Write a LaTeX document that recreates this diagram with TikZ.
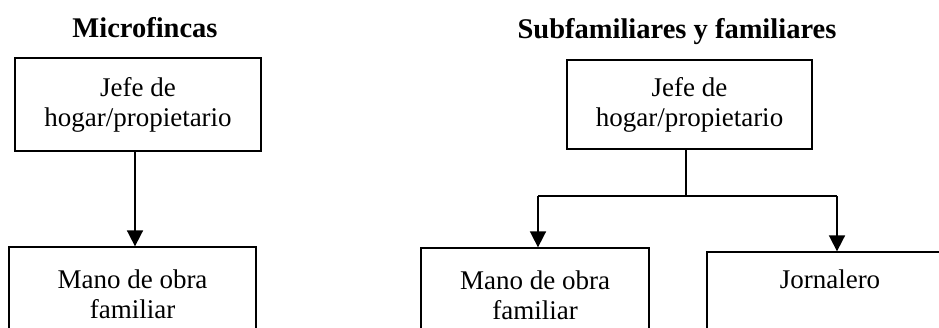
\documentclass[tikz,border=0pt]{standalone}
\usepackage{fontspec}
\setmainfont{Liberation Serif}
\usetikzlibrary{arrows.meta}
\begin{document}
\begin{tikzpicture}[x=1pt,y=-1pt,
  box/.style={draw, line width=1.3pt, align=center, inner sep=0pt,
    font=\fontsize{27}{30}\selectfont},
  title/.style={anchor=base, inner sep=0pt, font=\fontsize{28.5}{32}\selectfont\bfseries},
  conn/.style={line width=1.7pt},
  arr/.style={conn, -{Triangle[width=16pt,length=16pt]}}]
\useasboundingbox (0,0) rectangle (939,327);
\clip (0,0) rectangle (939,327);
% titles
\node[title] (t1) at (145,37) {Microfincas};
\node[title] (t2) at (677,38) {Subfamiliares y familiares};
% left
\node[box, minimum width=246pt, minimum height=93pt] (lt) at (138,104.5) {Jefe de\\hogar/propietario};
\node[box, minimum width=247pt, minimum height=94pt] (lb) at (132.5,294) {Mano de obra\\familiar};
\coordinate (la) at (135,0);
\draw[arr] (la |- lt.south) -- (la |- lb.north);
% right
\node[box, minimum width=245pt, minimum height=89pt] (rt) at (689.5,104.5) {Jefe de\\hogar/propietario};
\node[box, minimum width=228pt, minimum height=94pt] (rbl) at (535,295) {Mano de obra\\familiar};
\node[box, minimum width=246pt, minimum height=100pt, text depth=46pt] (rbr) at (830,302) {Jornalero};
\coordinate (j) at (686,196);
\coordinate (jl) at (538,196);
\coordinate (jr) at (837,196);
\draw[conn] (j |- rt.south) -- (j);
\draw[conn] (jl) -- (jr);
\draw[arr] (jl) -- (jl |- rbl.north);
\draw[arr] (jr) -- (jr |- rbr.north);
\end{tikzpicture}
\end{document}
